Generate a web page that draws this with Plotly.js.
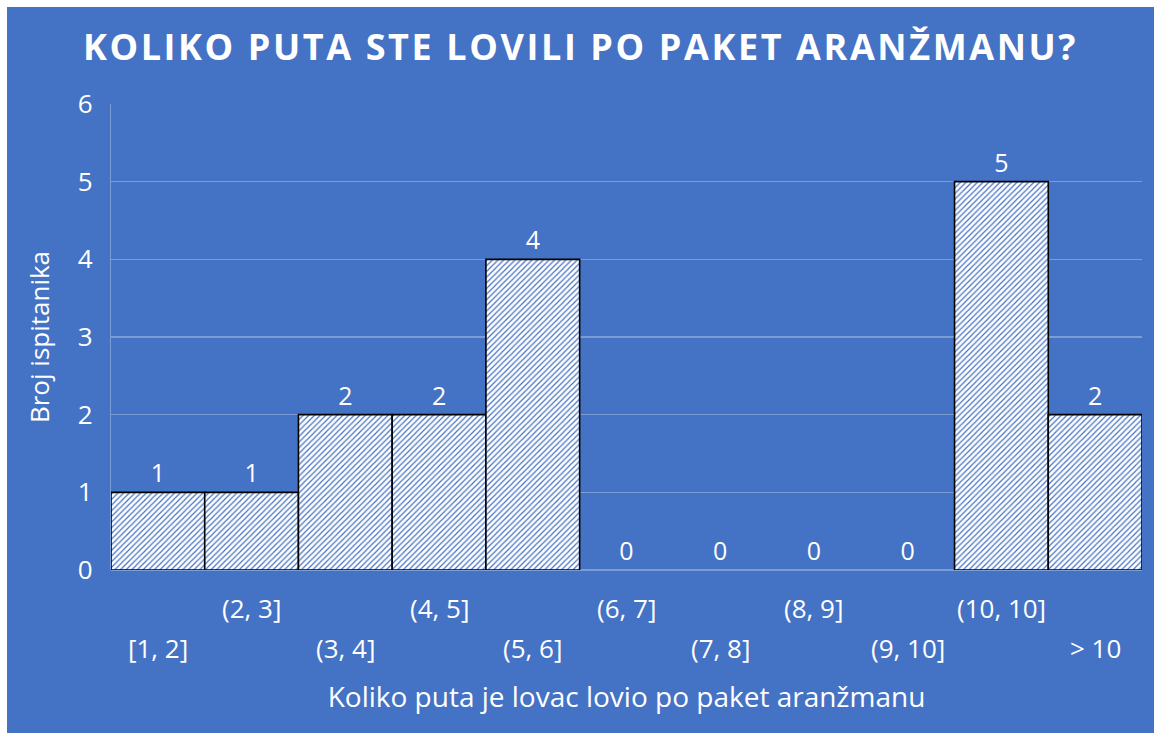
<!DOCTYPE html>
<html>
<head>
<meta charset="utf-8">
<script src="https://cdn.plot.ly/plotly-3.0.1.min.js"></script>
<style>
  html, body { margin: 0; padding: 0; background: #ffffff; }
  #chart { position: absolute; left: 7px; top: 7px; width: 1147px; height: 726px; }
</style>
</head>
<body>
<div id="chart"></div>
<script>
const categories = ["[1, 2]", "(2, 3]", "(3, 4]", "(4, 5]", "(5, 6]", "(6, 7]", "(7, 8]", "(8, 9]", "(9, 10]", "(10, 10]", "> 10"];
const counts = [1, 1, 2, 2, 4, 0, 0, 0, 0, 5, 2];
const yTicks = [0, 1, 2, 3, 4, 5, 6];

const chartTitle = "KOLIKO PUTA STE LOVILI PO PAKET ARANŽMANU?";
const xTitle = "Koliko puta je lovac lovio po paket aranžmanu";
const yTitle = "Broj ispitanika";

const BG = "#4472C4";
const FONT = "Open Sans, sans-serif";

const trace = {
  type: "bar",
  x: categories,
  y: counts,
  text: counts.map(String),
  textposition: "outside",
  cliponaxis: false,
  textfont: { family: FONT, size: 25, color: "#ffffff" },
  marker: {
    color: "#ffffff",
    line: { color: "#000000", width: counts.map(v => (v > 0 ? 1.6 : 0)) },
    pattern: { shape: "/", bgcolor: "#ffffff", fgcolor: BG, size: 4, solidity: 0.3 }
  },
  hoverinfo: "x+y"
};

// staggered category labels as annotations anchored to the category axis
const annotations = categories.map((c, i) => ({
  x: c, xref: "x",
  y: 0, yref: "paper",
  yanchor: "middle",
  yshift: (i % 2 === 0) ? -78 : -38,
  text: c,
  showarrow: false,
  font: { family: FONT, size: 26, color: "#ffffff" }
}));

const layout = {
  width: 1147,
  height: 726,
  paper_bgcolor: BG,
  plot_bgcolor: BG,
  margin: { l: 104, r: 12, t: 97, b: 163 },
  bargap: 0,
  showlegend: false,
  title: {
    text: "<span style='letter-spacing:2.6px'>" + chartTitle + "</span>",
    font: { family: FONT, size: 36, color: "#ffffff", weight: 700 },
    x: 0.5, xanchor: "center",
    y: 1 - 40 / 726, yanchor: "middle", yref: "container"
  },
  xaxis: {
    type: "category",
    showticklabels: false,
    ticks: "",
    showgrid: false,
    zeroline: false,
    showline: false,
    title: {
      text: xTitle,
      font: { family: FONT, size: 28, color: "#ffffff" },
      standoff: 117
    },
    automargin: false
  },
  yaxis: {
    range: [0, 6],
    tickvals: yTicks,
    ticks: "",
    tickfont: { family: FONT, size: 26, color: "#ffffff" },
    ticklabelstandoff: 12,
    showgrid: true,
    gridcolor: "rgba(255,255,255,0.3)",
    gridwidth: 1.3,
    zeroline: true,
    zerolinecolor: "rgba(255,255,255,0.3)",
    zerolinewidth: 1.3,
    showline: true,
    linecolor: "rgba(255,255,255,0.3)",
    linewidth: 1.3,
    title: {
      text: yTitle,
      font: { family: FONT, size: 26, color: "#ffffff" },
      standoff: 20
    },
    automargin: false
  },
  annotations: annotations
};

Plotly.newPlot("chart", [trace], layout, { displayModeBar: false, staticPlot: true });
</script>
</body>
</html>
